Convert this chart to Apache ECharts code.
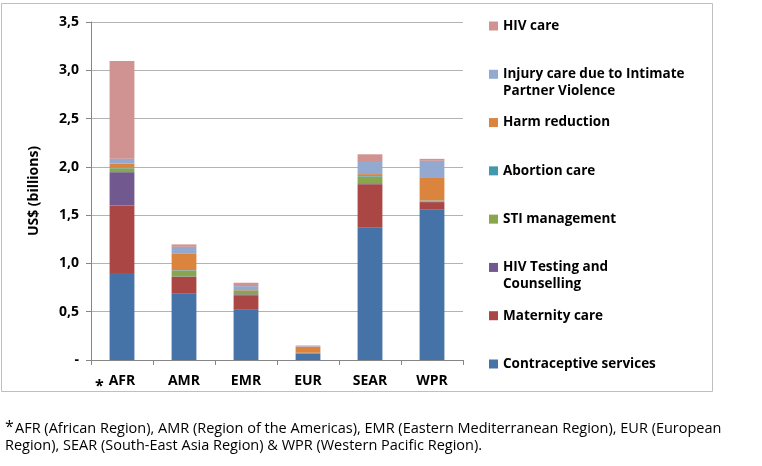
<!DOCTYPE html>
<html><head><meta charset="utf-8">
<script src="https://cdn.jsdelivr.net/npm/echarts@6/dist/echarts.min.js"></script>
<style>html,body{margin:0;padding:0;background:#fff}#c{width:762px;height:466px}</style>
</head><body><div id="c"></div>
<script>
const categories = ['AFR','AMR','EMR','EUR','SEAR','WPR'];
const contraceptive = [0.90, 0.69, 0.52, 0.065, 1.37, 1.56];
const maternity     = [0.70, 0.17, 0.145, 0.005, 0.45, 0.075];
const hivTesting    = [0.345, 0.005, 0.015, 0, 0.01, 0.005];
const sti           = [0.04, 0.06, 0.035, 0.003, 0.07, 0.01];
const abortion      = [0.005, 0.005, 0.005, 0.002, 0.005, 0.003];
const harm          = [0.045, 0.175, 0.005, 0.06, 0.02, 0.24];
const injury        = [0.05, 0.067, 0.04, 0.005, 0.125, 0.17];
const hivCare       = [1.01, 0.025, 0.035, 0.01, 0.08, 0.02];
const yTicks = [0, 0.5, 1.0, 1.5, 2.0, 2.5, 3.0, 3.5];

const seriesDefs = [
  ['Contraceptive services', contraceptive, '#4572A7'],
  ['Maternity care', maternity, '#AA4643'],
  ['HIV Testing and', hivTesting, '#71588F'],
  ['STI management', sti, '#89A54E'],
  ['Abortion care', abortion, '#4198AF'],
  ['Harm reduction', harm, '#DB843D'],
  ['Injury care due to Intimate', injury, '#93A9CF'],
  ['HIV care', hivCare, '#D19392']
];
const font = '"Open Sans", "Noto Sans", sans-serif';
const chart = echarts.init(document.getElementById('c'));
const gridTop = 22, gridBottomPx = 360;
const step = (gridBottomPx - gridTop) / 7;
const legends = seriesDefs.map((d, i) => ({
  data: [d[0]],
  left: 484,
  top: gridBottomPx - step * i - 8,
  itemWidth: 9, itemHeight: 9, icon: 'rect',
  textStyle: {fontFamily: font, fontSize: 13.5, fontWeight: 'bold', color: '#000'},
  selectedMode: false
}));
chart.setOption({
  animation: false,
  textStyle: {fontFamily: font},
  grid: {left: 91, right: 299, top: gridTop, bottom: 466 - gridBottomPx},
  legend: legends,
  xAxis: {
    type: 'category', data: categories,
    axisLine: {lineStyle: {color: '#868686'}},
    axisTick: {show: true, length: 5, lineStyle: {color: '#868686'}},
    axisLabel: {fontFamily: font, fontSize: 14, fontWeight: 'bold', color: '#000', margin: 14}
  },
  yAxis: {
    type: 'value', min: 0, max: 3.5, interval: 0.5,
    name: 'US$ (billions)', nameLocation: 'middle', nameGap: 50,
    nameTextStyle: {fontFamily: font, fontSize: 14, fontWeight: 'bold', color: '#000'},
    axisLine: {show: true, lineStyle: {color: '#868686'}},
    axisTick: {show: true, length: 5, lineStyle: {color: '#868686'}},
    splitLine: {lineStyle: {color: '#b3b3b3'}},
    axisLabel: {fontFamily: font, fontSize: 14, fontWeight: 'bold', color: '#000', margin: 12,
      formatter: v => v === 0 ? '-' : v.toFixed(1).replace('.', ',')}
  },
  series: seriesDefs.map(d => ({
    name: d[0], type: 'bar', stack: 'total', data: d[1], barWidth: '40%',
    itemStyle: {color: d[2]}
  })),
  graphic: [
    {type: 'rect', shape: {x: 1.5, y: 3.5, width: 711, height: 388}, style: {fill: 'none', stroke: '#bfbfbf', lineWidth: 1}, silent: true},
    {type: 'text', left: 95, top: 378, style: {text: '*', font: 'bold 16px ' + font, fill: '#000'}},
    {type: 'text', left: 503, top: gridBottomPx - step * 6 + 14, style: {text: 'Partner Violence', font: 'bold 13.5px ' + font, fill: '#000'}},
    {type: 'text', left: 503, top: gridBottomPx - step * 2 + 14, style: {text: 'Counselling', font: 'bold 13.5px ' + font, fill: '#000'}},
    {type: 'text', left: 5, top: 419, style: {text: '*', font: '16px ' + font, fill: '#000'}},
    {type: 'text', left: 15, top: 421, style: {text: 'AFR (African Region), AMR (Region of the Americas), EMR (Eastern Mediterranean Region), EUR (European', font: '14.5px ' + font, fill: '#000'}},
    {type: 'text', left: 5, top: 438, style: {text: 'Region), SEAR (South-East Asia Region) & WPR (Western Pacific Region).', font: '14.5px ' + font, fill: '#000'}}
  ]
});
</script></body></html>
